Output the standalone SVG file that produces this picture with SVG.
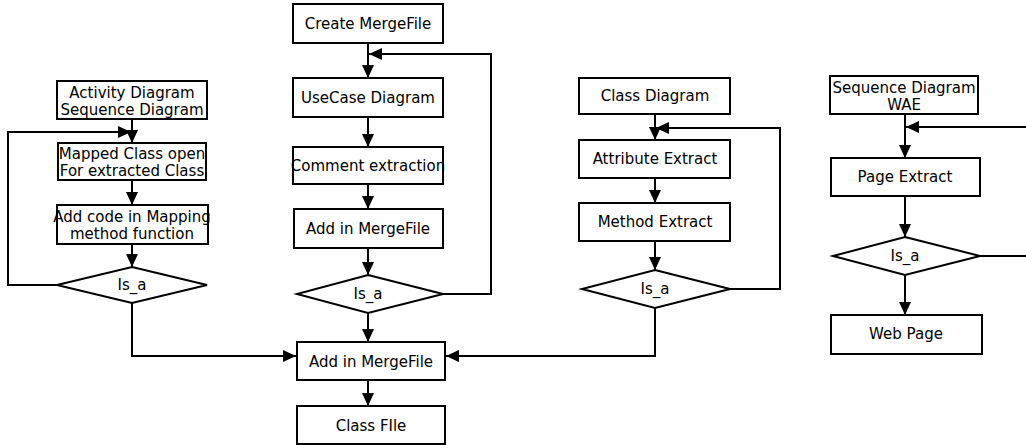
<svg xmlns="http://www.w3.org/2000/svg" width="1026" height="445" viewBox="0 0 1026 445">
<style>
.box{fill:#fff;stroke:#000;stroke-width:2}
.t{font-family:"DejaVu Sans",Verdana,sans-serif;font-size:15px;fill:#000;text-anchor:middle}
.c{fill:none;stroke:#000;stroke-width:2}
</style>
<defs>
<marker id="ah" markerUnits="userSpaceOnUse" markerWidth="14" markerHeight="12" refX="13" refY="6" orient="auto">
<path d="M0,0 L13,6 L0,12 z" fill="#000"/>
</marker>
</defs>
<rect width="1026" height="445" fill="#fff"/>
<g id="connectors">
<path class="c" d="M132,119 V143" marker-end="url(#ah)"/>
<path class="c" d="M132,180 V205" marker-end="url(#ah)"/>
<path class="c" d="M132,244 V267" marker-end="url(#ah)"/>
<path class="c" d="M57,285 H8 V132 H131" marker-end="url(#ah)"/>
<path class="c" d="M132,303 V356 H296" marker-end="url(#ah)"/>
<path class="c" d="M368,43 V78" marker-end="url(#ah)"/>
<path class="c" d="M368,117 V147" marker-end="url(#ah)"/>
<path class="c" d="M368,184 V209" marker-end="url(#ah)"/>
<path class="c" d="M368,248 V275" marker-end="url(#ah)"/>
<path class="c" d="M368,313 V342" marker-end="url(#ah)"/>
<path class="c" d="M368,380 V406" marker-end="url(#ah)"/>
<path class="c" d="M443,294 H491 V54 H369" marker-end="url(#ah)"/>
<path class="c" d="M655,114 V140" marker-end="url(#ah)"/>
<path class="c" d="M655,178 V203" marker-end="url(#ah)"/>
<path class="c" d="M655,241 V270" marker-end="url(#ah)"/>
<path class="c" d="M730,289 H780 V128 H656" marker-end="url(#ah)"/>
<path class="c" d="M655,308 V356 H446" marker-end="url(#ah)"/>
<path class="c" d="M905,114 V158" marker-end="url(#ah)"/>
<path class="c" d="M1026,127 H906" marker-end="url(#ah)"/>
<path class="c" d="M905,196 V237" marker-end="url(#ah)"/>
<path class="c" d="M980,256 H1026"/>
<path class="c" d="M905,275 V315" marker-end="url(#ah)"/>
</g>
<g id="n-activity"><rect class="box" x="57" y="81" width="150" height="38"/><text class="t" x="132" y="98">Activity Diagram</text><text class="t" x="132" y="115">Sequence Diagram</text></g>
<g id="n-mapped"><rect class="box" x="58" y="143" width="148" height="37"/><text class="t" x="132" y="159">Mapped Class open</text><text class="t" x="132" y="176">For extracted Class</text></g>
<g id="n-addcode"><rect class="box" x="57" y="205" width="151" height="39"/><text class="t" x="132" y="222">Add code in Mapping</text><text class="t" x="132" y="239">method function</text></g>
<g id="n-isa1"><polygon class="box" points="132,267 207,285 132,303 57,285"/><text class="t" x="132" y="290">Is_a</text></g>
<g id="n-create"><rect class="box" x="293" y="4" width="150" height="39"/><text class="t" x="368" y="29">Create MergeFile</text></g>
<g id="n-usecase"><rect class="box" x="293" y="78" width="150" height="39"/><text class="t" x="368" y="103">UseCase Diagram</text></g>
<g id="n-comment"><rect class="box" x="293" y="147" width="150" height="37"/><text class="t" x="368" y="171">Comment extraction</text></g>
<g id="n-add1"><rect class="box" x="294" y="209" width="149" height="39"/><text class="t" x="368" y="234">Add in MergeFile</text></g>
<g id="n-isa2"><polygon class="box" points="368,275 443,294 368,313 297,294"/><text class="t" x="368" y="299">Is_a</text></g>
<g id="n-add2"><rect class="box" x="297" y="342" width="148" height="38"/><text class="t" x="371" y="367">Add in MergeFile</text></g>
<g id="n-classfile"><rect class="box" x="297" y="406" width="148" height="38"/><text class="t" x="371" y="431">Class FIle</text></g>
<g id="n-classdiag"><rect class="box" x="579" y="78" width="151" height="36"/><text class="t" x="655" y="101">Class Diagram</text></g>
<g id="n-attr"><rect class="box" x="579" y="140" width="151" height="38"/><text class="t" x="655" y="164">Attribute Extract</text></g>
<g id="n-method"><rect class="box" x="579" y="203" width="151" height="38"/><text class="t" x="655" y="227">Method Extract</text></g>
<g id="n-isa3"><polygon class="box" points="655,270 730,289 655,308 582,289"/><text class="t" x="655" y="294">Is_a</text></g>
<g id="n-seqwae"><rect class="box" x="830" y="76" width="148" height="38"/><text class="t" x="904" y="93">Sequence Diagram</text><text class="t" x="904" y="110">WAE</text></g>
<g id="n-page"><rect class="box" x="831" y="158" width="149" height="38"/><text class="t" x="905" y="182">Page Extract</text></g>
<g id="n-isa4"><polygon class="box" points="905,237 980,256 905,275 833,256"/><text class="t" x="905" y="261">Is_a</text></g>
<g id="n-webpage"><rect class="box" x="831" y="315" width="151" height="39"/><text class="t" x="906" y="339">Web Page</text></g>
</svg>
